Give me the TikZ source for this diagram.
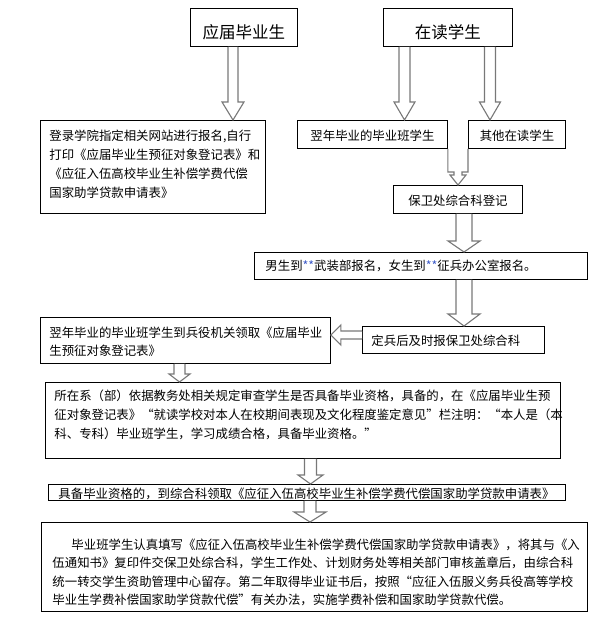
\documentclass[tikz,border=0pt]{standalone}
\usepackage{fontspec}
\newfontfamily\cjk{Noto Sans CJK SC}
\usetikzlibrary{calc}
\definecolor{arrowgray}{RGB}{120,120,120}
\definecolor{starblue}{RGB}{60,90,200}
% left-aligned box text: width, height, top pad, left pad, font size, baselineskip, content
\newcommand\bxl[7]{\parbox[c][#2pt][t]{#1pt}{\fontsize{#5pt}{#6pt}\selectfont\parindent=0pt\leftskip=#4pt\rightskip=0pt plus 1fil\parfillskip=0pt plus 1fil\vspace*{#3pt}#7\par}}
% centred box text: width, height, top pad, font size, content
\newcommand\bxc[5]{\parbox[c][#2pt][t]{#1pt}{\fontsize{#4pt}{#4pt}\selectfont\parindent=0pt\leftskip=0pt plus 1fil\rightskip=0pt plus 1fil\parfillskip=0pt\vspace*{#3pt}#5\par}}
\newcommand\stars{{\color{starblue}**}}
% down block arrow: x, from node, to node, shaft half, head half, head length
\newcommand\barrowdown[6]{%
\draw[blockarrow] let \p1=(#2.south), \p2=(#3.north) in
 (#1pt-#4pt,\y1) -- (#1pt-#4pt,\y2+#6pt) -- (#1pt-#5pt,\y2+#6pt) -- (#1pt,\y2)
 -- (#1pt+#5pt,\y2+#6pt) -- (#1pt+#4pt,\y2+#6pt) -- (#1pt+#4pt,\y1);}
\begin{document}
\begin{tikzpicture}[x=1pt,y=-1pt,
  box/.style={draw=black,line width=0.9pt,inner sep=0pt,anchor=north west,font=\cjk},
  blockarrow/.style={draw=arrowgray,line width=1.1pt,fill=white,line join=miter}]
\fill[white] (0,0) rectangle (604,619);
\useasboundingbox (0,0) rectangle (604,619);

\node[box] (b1) at (190,8) {\bxc{107}{38}{16.5}{16.5}{应届毕业生}};
\node[box] (b2) at (383,8) {\bxc{129}{38}{16.5}{16.5}{在读学生}};
\node[box] (b3) at (40,120) {\bxl{225}{93}{9.2}{9}{12.4}{19}{登录学院指定相关网站进行报名,自行\\打印《应届毕业生预征对象登记表》和\\《应征入伍高校毕业生补偿学费代偿\\国家助学贷款申请表》}};
\node[box] (b4) at (297,120) {\bxc{150}{28}{9.2}{12.4}{翌年毕业的毕业班学生}};
\node[box] (b5) at (468,120) {\bxc{97}{28}{9.2}{12.4}{其他在读学生}};
\node[box] (b6) at (393,185) {\bxc{129}{28}{9.2}{12.4}{保卫处综合科登记}};
\node[box] (b7) at (254,252) {\bxl{333}{27}{7.2}{11}{12.4}{19}{男生到\stars 武装部报名，女生到\stars 征兵办公室报名。}};
\node[box] (b8) at (362,326) {\bxl{182}{27}{8.2}{9}{12.4}{19}{定兵后及时报保卫处综合科}};
\node[box] (b9) at (40,317) {\bxl{290}{46}{9.2}{9}{12.4}{18}{翌年毕业的毕业班学生到兵役机关领取《应届毕业\\生预征对象登记表》}};
\node[box] (b10) at (45,382) {\bxl{515}{76}{7.2}{9}{12.4}{19}{所在系（部）依据教务处相关规定审查学生是否具备毕业资格，具备的，在《应届毕业生预\\征对象登记表》“就读学校对本人在校期间表现及文化程度鉴定意见”栏注明：“本人是（本\\科、专科）毕业班学生，学习成绩合格，具备毕业资格。”}};
\node[box] (b11) at (48,484) {\bxl{517}{16}{3.2}{10}{12.4}{19}{具备毕业资格的，到综合科领取《应征入伍高校毕业生补偿学费代偿国家助学贷款申请表》}};
\node[box] (b12) at (41,522) {\bxl{546}{89}{16.2}{11}{12.4}{18.6}{\hspace*{19pt}毕业班学生认真填写《应征入伍高校毕业生补偿学费代偿国家助学贷款申请表》，将其与《入\\伍通知书》复印件交保卫处综合科，学生工作处、计划财务处等相关部门审核盖章后，由综合科\\统一转交学生资助管理中心留存。第二年取得毕业证书后，按照“应征入伍服义务兵役高等学校\\毕业生学费补偿国家助学贷款代偿”有关办法，实施学费补偿和国家助学贷款代偿。}};

\barrowdown{233}{b1}{b3}{5}{11}{18}
\barrowdown{404.5}{b2}{b4}{5.5}{10.5}{18}
\barrowdown{490}{b2}{b5}{5.5}{10.5}{18}
% merging arrow between the two boxes
\draw[blockarrow] let \p1=(b4.south east), \p2=(b5.south west), \p3=(b6.north) in
  (\x1,\y1) -- (\x1,-172pt) -- (454pt,-172pt) -- (454pt,-175pt) -- (450pt,-175pt)
  -- (458pt,\y3) -- (466pt,-175pt) -- (462pt,-175pt) -- (462pt,-172pt)
  -- (\x2,-172pt) -- (\x2,\y2);
\barrowdown{464}{b6}{b7}{8}{16}{11}
\barrowdown{464}{b7}{b8}{8}{16}{12}
% left arrow
\draw[blockarrow] let \p1=(b8.west), \p2=(b9.east) in
  (\x1,-331pt) -- (\x2+10pt,-331pt) -- (\x2+10pt,-325pt) -- (\x2,-335pt)
  -- (\x2+10pt,-345pt) -- (\x2+10pt,-339pt) -- (\x1,-339pt);
\barrowdown{179.5}{b9}{b10}{5.5}{10.5}{8}
\barrowdown{310.5}{b10}{b11}{6}{12.5}{9}
\barrowdown{310}{b11}{b12}{6}{16}{10}
\end{tikzpicture}
\end{document}
